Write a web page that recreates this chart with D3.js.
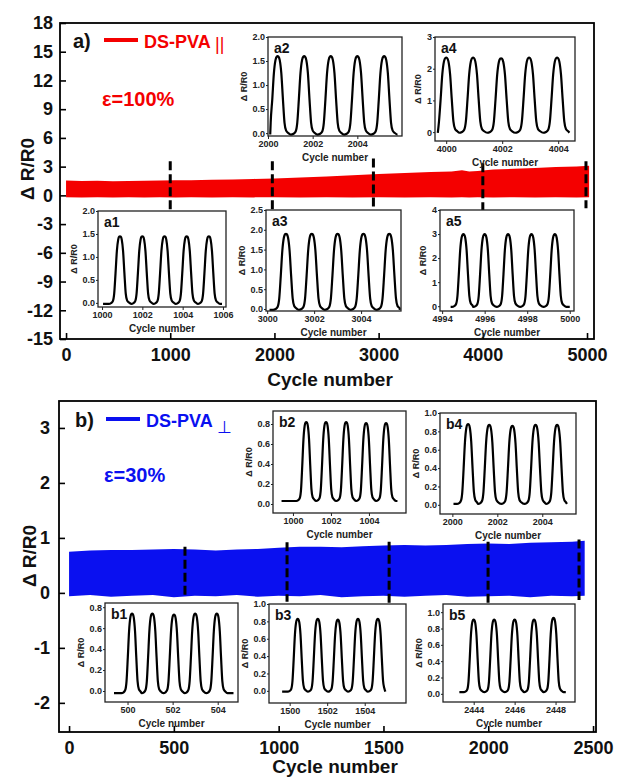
<!DOCTYPE html>
<html>
<head>
<meta charset="utf-8">
<script src="https://cdn.jsdelivr.net/npm/d3@7"></script>
<style>
  body { margin: 0; background: #fff; }
  text { font-family: "Liberation Sans", Arial, sans-serif; }
</style>
</head>
<body>
<script>
// ---------- panel a : DS-PVA ||, strain 100% ----------
const xTicksA = [0, 1000, 2000, 3000, 4000, 5000];
const yTicksA = [-15, -12, -9, -6, -3, 0, 3, 6, 9, 12, 15, 18];
const xDomainA = [-58, 5067];
const yDomainA = [-15, 18];
const bandCyclesA = [0, 150, 300, 450, 600, 750, 900, 1050, 1200, 1400, 1600, 1800, 2000, 2250, 2500, 2750, 3000, 3250, 3500, 3700, 3800, 3870, 3950, 4100, 4300, 4500, 4700, 4900, 5020];
const bandTopA = [1.55, 1.5, 1.52, 1.48, 1.5, 1.53, 1.55, 1.57, 1.58, 1.62, 1.66, 1.72, 1.77, 1.86, 1.98, 2.1, 2.22, 2.33, 2.44, 2.5, 2.62, 2.5, 2.55, 2.7, 2.78, 2.86, 2.95, 3.02, 3.1];
const bandBottomA = [-0.2, -0.22, -0.2, -0.21, -0.2, -0.22, -0.2, -0.21, -0.2, -0.22, -0.2, -0.21, -0.2, -0.22, -0.2, -0.21, -0.2, -0.22, -0.2, -0.21, -0.2, -0.22, -0.2, -0.21, -0.2, -0.22, -0.2, -0.21, -0.2];
const dashCyclesA = [1000, 1980, 2950, 4000, 4990];
const dashTopA = [3.55, 3.55, 3.85, 3.35, 3.55];
const dashBottomA = [-1.6, -1.6, -1.6, -1.6, -1.35];

// ---------- panel b : DS-PVA ⊥, strain 30% ----------
const xTicksB = [0, 500, 1000, 1500, 2000, 2500];
const yTicksB = [-2, -1, 0, 1, 2, 3];
const xDomainB = [-48, 2514];
const yDomainB = [-2.53, 3.49];
const bandCyclesB = [0, 100, 200, 300, 400, 500, 600, 700, 800, 900, 1000, 1100, 1200, 1300, 1400, 1500, 1600, 1700, 1800, 1900, 2000, 2100, 2200, 2300, 2400, 2460];
const bandTopB = [0.75, 0.77, 0.78, 0.78, 0.79, 0.8, 0.79, 0.77, 0.79, 0.8, 0.82, 0.84, 0.84, 0.83, 0.85, 0.86, 0.87, 0.86, 0.87, 0.89, 0.9, 0.89, 0.91, 0.92, 0.93, 0.95];
const bandBottomB = [-0.06, -0.04, -0.07, -0.05, -0.04, -0.08, -0.05, -0.06, -0.04, -0.07, -0.05, -0.06, -0.04, -0.08, -0.06, -0.05, -0.07, -0.05, -0.04, -0.07, -0.06, -0.05, -0.08, -0.05, -0.06, -0.05];
const dashCyclesB = [553, 1040, 1527, 1999, 2433];
const dashTopB = [0.84, 0.92, 0.93, 0.93, 0.97];
const dashBottomB = [-0.09, -0.16, -0.18, -0.18, -0.13];

// ---------- insets (a1..a5, b1..b5) ----------
const insetLabels = ["a1", "a2", "a3", "a4", "a5", "b1", "b2", "b3", "b4", "b5"];
const insetXDomains = [[999.8, 1006.15], [2000.0, 2006.0], [2999.95, 3005.7], [3999.6, 4004.6], [4993.9, 5000.2],
  [499.0, 504.9], [998.95, 1005.95], [1498.9, 1506.2], [1999.45, 2005.5], [2442.5, 2448.95]];
const insetYDomains = [[-0.09, 2.0], [-0.06, 2.0], [-0.05, 2.5], [-0.28, 3.0], [-0.2, 4.0],
  [-0.105, 0.84], [-0.09, 0.93], [-0.14, 1.0], [-0.1, 1.0], [-0.1, 1.1]];
const insetXTicks = [[1000, 1002, 1004, 1006], [2000, 2002, 2004], [3000, 3002, 3004], [4000, 4002, 4004], [4994, 4996, 4998, 5000],
  [500, 502, 504], [1000, 1002, 1004], [1500, 1502, 1504], [2000, 2002, 2004], [2444, 2446, 2448]];
const insetYTicks = [[0, 0.5, 1, 1.5, 2], [0, 0.5, 1, 1.5, 2], [0, 0.5, 1, 1.5, 2, 2.5], [0, 1, 2, 3], [0, 1, 2, 3, 4],
  [0, 0.2, 0.4, 0.6, 0.8], [0, 0.2, 0.4, 0.6, 0.8], [0, 0.2, 0.4, 0.6, 0.8, 1], [0, 0.2, 0.4, 0.6, 0.8, 1], [0, 0.2, 0.4, 0.6, 0.8, 1]];
const insetPeakCycles = [
  [1000.89, 1002.0, 1003.1, 1004.2, 1005.3],
  [2000.43, 2001.62, 2002.81, 2004.0, 2005.2],
  [3000.8, 3001.9, 3003.0, 3004.1, 3005.2],
  [4000.0, 4000.96, 4001.96, 4002.96, 4003.96],
  [4995.0, 4996.0, 4997.1, 4998.2, 4999.3],
  [500.2, 501.1, 502.06, 503.0, 503.96],
  [1000.7, 1001.74, 1002.8, 1003.85, 1004.9],
  [1500.43, 1501.5, 1502.57, 1503.64, 1504.7],
  [2000.7, 2001.64, 2002.67, 2003.7, 2004.66],
  [2444.0, 2445.0, 2446.0, 2446.95, 2447.9]];
const insetPeakValues = [
  [1.45, 1.45, 1.45, 1.45, 1.45],
  [1.6, 1.6, 1.6, 1.6, 1.6],
  [1.9, 1.9, 1.9, 1.9, 1.9],
  [2.35, 2.35, 2.33, 2.35, 2.35],
  [3.0, 3.0, 3.0, 3.0, 3.0],
  [0.74, 0.74, 0.73, 0.74, 0.74],
  [0.82, 0.82, 0.82, 0.81, 0.81],
  [0.83, 0.83, 0.82, 0.83, 0.83],
  [0.88, 0.87, 0.86, 0.87, 0.87],
  [0.91, 0.91, 0.91, 0.91, 0.93]];
const insetBaselines = [-0.02, -0.03, -0.02, -0.02, -0.03, -0.02, 0.03, -0.01, 0.01, 0.02];
const insetSpans = [[1000.05, 1005.95], [2000.1, 2005.8], [3000.1, 3005.65], [3999.7, 4004.4], [4994.4, 5000.0],
  [499.4, 504.7], [999.4, 1005.5], [1499.6, 1505.1], [2000.05, 2005.1], [2443.3, 2448.5]];
// one loading/unloading cycle (phase in periods, level as fraction of peak)
const wavePhase = [-0.5, -0.4, -0.32, -0.26, -0.2, -0.14, -0.08, -0.03, 0, 0.03, 0.08, 0.14, 0.2, 0.26, 0.32, 0.4, 0.5];
const waveLevel = [0, 0.01, 0.04, 0.15, 0.45, 0.78, 0.95, 0.995, 1, 0.995, 0.95, 0.78, 0.45, 0.15, 0.05, 0.02, 0];

// ---------- layout ----------
const width = 619, height = 779;
const insetBoxes = [[98, 211, 128, 96], [268, 37, 134, 99], [266, 210, 135, 101], [435, 37, 140, 104], [440, 210, 134, 101],
  [105, 603, 133, 99], [273, 411, 133, 102], [269, 604, 137, 99], [440, 413, 136, 101], [443, 604, 132, 98]];

const hyphen = (d) => (d < 0 ? "-" + Math.abs(d) : String(d));

const svg = d3.select("body").append("svg")
  .attr("width", width)
  .attr("height", height);

function drawPanel(p) {
  const x = d3.scaleLinear().domain(p.xDomain).range([p.left, p.right]);
  const y = d3.scaleLinear().domain(p.yDomain).range([p.bottom, p.top]);
  const g = svg.append("g");

  // dense cycling signal drawn as its envelope
  const area = d3.area()
    .x((i) => x(p.cycles[i]))
    .y0((i) => y(p.lower[i]))
    .y1((i) => y(p.upper[i]));
  g.append("path")
    .attr("d", area(d3.range(p.cycles.length)))
    .attr("fill", p.color);

  // dashed markers
  g.selectAll("line.dash")
    .data(d3.range(p.dashCycles.length))
    .enter()
    .append("line")
    .attr("class", "dash")
    .attr("x1", (i) => x(p.dashCycles[i]))
    .attr("x2", (i) => x(p.dashCycles[i]))
    .attr("y1", (i) => y(p.dashTop[i]))
    .attr("y2", (i) => y(p.dashBottom[i]))
    .attr("stroke", "#000")
    .attr("stroke-width", 3)
    .attr("stroke-dasharray", "9,4");

  // axes, inward ticks
  const xAxis = g.append("g")
    .attr("transform", `translate(0,${p.bottom})`)
    .call(d3.axisBottom(x).tickValues(p.xTicks).tickFormat(hyphen).tickSize(-6).tickPadding(9));
  const yAxis = g.append("g")
    .attr("transform", `translate(${p.left},0)`)
    .call(d3.axisLeft(y).tickValues(p.yTicks).tickFormat(hyphen).tickSize(-6).tickPadding(p.yPad));
  [xAxis, yAxis].forEach((a) => {
    a.select(".domain").remove();
    a.selectAll("line").attr("stroke", "#000").attr("stroke-width", 1.6);
    a.selectAll("text").attr("font-size", 18).attr("font-weight", "bold").attr("fill", "#111");
  });

  g.append("rect")
    .attr("x", p.left).attr("y", p.top)
    .attr("width", p.right - p.left).attr("height", p.bottom - p.top)
    .attr("fill", "none").attr("stroke", "#000").attr("stroke-width", 1.8);

  g.append("text")
    .attr("x", p.xTitle[0]).attr("y", p.xTitle[1])
    .attr("text-anchor", "middle")
    .attr("font-size", 19).attr("font-weight", "bold").attr("fill", "#111")
    .text("Cycle number");
  g.append("text")
    .attr("transform", `translate(${p.yTitle[0]},${p.yTitle[1]}) rotate(-90)`)
    .attr("text-anchor", "middle")
    .attr("font-size", 19).attr("font-weight", "bold").attr("fill", "#111")
    .text("\u0394 R/R0");
}

drawPanel({
  left: 60, right: 594, top: 23, bottom: 339,
  xDomain: xDomainA, yDomain: yDomainA, xTicks: xTicksA, yTicks: yTicksA, yPad: 7,
  cycles: bandCyclesA, upper: bandTopA, lower: bandBottomA, color: "#f40000",
  dashCycles: dashCyclesA, dashTop: dashTopA, dashBottom: dashBottomA,
  xTitle: [330, 386], yTitle: [34, 169]
});
drawPanel({
  left: 59, right: 596, top: 401, bottom: 732,
  xDomain: xDomainB, yDomain: yDomainB, xTicks: xTicksB, yTicks: yTicksB, yPad: 9,
  cycles: bandCyclesB, upper: bandTopB, lower: bandBottomB, color: "#0a10f0",
  dashCycles: dashCyclesB, dashTop: dashTopB, dashBottom: dashBottomB,
  xTitle: [335, 773], yTitle: [36, 556]
});

// ---------- insets ----------
function tracePoints(i) {
  const peaks = insetPeakCycles[i], vals = insetPeakValues[i], base = insetBaselines[i];
  const [s, e] = insetSpans[i];
  const period = (peaks[peaks.length - 1] - peaks[0]) / (peaks.length - 1);
  const pts = [[s, base]];
  peaks.forEach((c, k) => {
    wavePhase.forEach((ph, j) => {
      if (j === wavePhase.length - 1 && k < peaks.length - 1) return;
      const cx = c + ph * period;
      if (cx > s && cx < e) pts.push([cx, base + (vals[k] - base) * waveLevel[j]]);
    });
  });
  pts.push([e, base]);
  return pts.sort((a, b) => a[0] - b[0]);
}

insetLabels.forEach((name, i) => {
  const [bx, by, bw, bh] = insetBoxes[i];
  const x = d3.scaleLinear().domain(insetXDomains[i]).range([bx, bx + bw]);
  const y = d3.scaleLinear().domain(insetYDomains[i]).range([by + bh, by]);
  const intTicks = insetYTicks[i].every((t) => Number.isInteger(t)) && insetYTicks[i].length < 6;
  const g = svg.append("g");

  g.append("rect")
    .attr("x", bx).attr("y", by).attr("width", bw).attr("height", bh)
    .attr("fill", "#fff");

  const line = d3.line()
    .x((d) => x(d[0]))
    .y((d) => y(d[1]))
    .curve(d3.curveMonotoneX);
  g.append("path")
    .attr("d", line(tracePoints(i)))
    .attr("fill", "none")
    .attr("stroke", "#000")
    .attr("stroke-width", 2.2)
    .attr("stroke-linejoin", "round");

  g.append("rect")
    .attr("x", bx).attr("y", by).attr("width", bw).attr("height", bh)
    .attr("fill", "none").attr("stroke", "#222").attr("stroke-width", 1.3);

  const xa = g.append("g")
    .attr("transform", `translate(0,${by + bh})`)
    .call(d3.axisBottom(x).tickValues(insetXTicks[i]).tickFormat(d3.format("d")).tickSize(3).tickPadding(2));
  const ya = g.append("g")
    .attr("transform", `translate(${bx},0)`)
    .call(d3.axisLeft(y).tickValues(insetYTicks[i]).tickFormat(d3.format(intTicks ? "d" : ".1f")).tickSize(2).tickPadding(1));
  [xa, ya].forEach((a) => {
    a.select(".domain").remove();
    a.selectAll("line").attr("stroke", "#222").attr("stroke-width", 1);
    a.selectAll("text").attr("font-size", 9).attr("font-weight", "bold").attr("fill", "#222");
  });

  g.append("text")
    .attr("x", bx + 6).attr("y", by + 16)
    .attr("font-size", 14).attr("font-weight", "bold").attr("fill", "#111")
    .text(name);
  g.append("text")
    .attr("x", bx + bw / 2).attr("y", by + bh + 25)
    .attr("text-anchor", "middle")
    .attr("font-size", 10).attr("font-weight", "bold").attr("fill", "#222")
    .text("Cycle number");
  g.append("text")
    .attr("transform", `translate(${bx - (intTicks ? 14 : 21)},${by + bh / 2}) rotate(-90)`)
    .attr("text-anchor", "middle")
    .attr("font-size", 9).attr("font-weight", "bold").attr("fill", "#222")
    .text("\u0394 R/R0");
});

// ---------- panel labels & legends ----------
function legend(lx, ly, color, tag, mark, markSize, markDy, strain, strainY) {
  svg.append("text")
    .attr("x", lx).attr("y", ly + 6)
    .attr("font-size", 20).attr("font-weight", "bold").attr("fill", "#111")
    .text(tag);
  svg.append("line")
    .attr("x1", lx + 31).attr("x2", lx + 65)
    .attr("y1", ly - 2).attr("y2", ly - 2)
    .attr("stroke", color).attr("stroke-width", 4);
  const t = svg.append("text")
    .attr("x", lx + 71).attr("y", ly + 6)
    .attr("font-size", 18).attr("font-weight", "bold").attr("fill", color);
  t.append("tspan").text("DS-PVA ");
  t.append("tspan")
    .attr("font-weight", "normal").attr("font-size", markSize).attr("dy", markDy)
    .text(mark);
  svg.append("text")
    .attr("x", lx + 29).attr("y", strainY)
    .attr("font-size", 20).attr("font-weight", "bold").attr("fill", color)
    .text(strain);
}
legend(73, 42, "#f40000", "a)", "||", 18, 2, "\u03b5=100%", 106);
legend(75, 421, "#0a10f0", "b)", "\u22a5", 17, 6, "\u03b5=30%", 482);
</script>
</body>
</html>
